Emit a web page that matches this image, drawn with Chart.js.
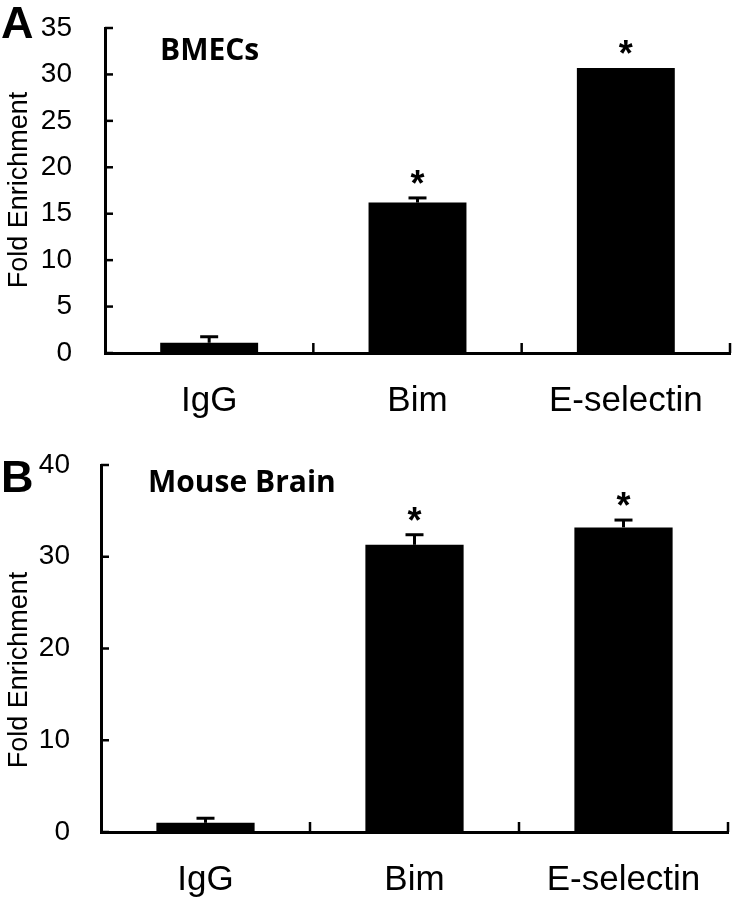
<!DOCTYPE html>
<html>
<head>
<meta charset="utf-8">
<script src="https://cdn.jsdelivr.net/npm/chart.js@4.4.1/dist/chart.umd.min.js"></script>
<style>
  body { margin: 0; background: #fff; }
  .panel { position: absolute; left: 0; }
</style>
</head>
<body>
<div class="panel" style="top:0"><canvas id="chartA" width="733" height="440"></canvas></div>
<div class="panel" style="top:440px"><canvas id="chartB" width="733" height="459"></canvas></div>
<script>
// data
const categories = ["IgG", "Bim", "E-selectin"];
const bmecValues = [1.1, 16.2, 30.7];
const bmecErrors = [0.65, 0.5, 0];
const bmecStars = [false, true, true];
const brainValues = [1.0, 31.3, 33.2];
const brainErrors = [0.5, 1.1, 0.8];
const brainStars = [false, true, true];
const bmecAxis = { max: 35, step: 5 };
const brainAxis = { max: 40, step: 10 };

Chart.defaults.font.family = "'Liberation Sans', Arial, sans-serif";
Chart.defaults.color = "#000";

function line(ctx, x1, y1, x2, y2) {
  ctx.beginPath();
  ctx.moveTo(x1, y1);
  ctx.lineTo(x2, y2);
  ctx.stroke();
}

// inward ticks, error bars, asterisks and panel labels
const panelPlugin = {
  id: "panel",
  afterDatasetsDraw(chart, args, opts) {
    const ctx = chart.ctx;
    const xs = chart.scales.x, ys = chart.scales.y;
    const meta = chart.getDatasetMeta(0);
    ctx.save();
    ctx.strokeStyle = "#000";
    ctx.fillStyle = "#000";
    ctx.lineWidth = 2.5;
    ys.ticks.forEach(t => {
      const py = ys.getPixelForValue(t.value);
      line(ctx, xs.left, py, xs.left + 8, py);
    });
    const half = (xs.getPixelForValue(1) - xs.getPixelForValue(0)) / 2;
    categories.forEach((c, i) => {
      const px = xs.getPixelForValue(i) + half;
      line(ctx, px, ys.bottom, px, ys.bottom - 10);
    });

    ctx.lineWidth = 3;
    opts.values.forEach((v, i) => {
      const bar = meta.data[i];
      const e = opts.errors[i];
      const top = ys.getPixelForValue(v + e);
      if (e > 0) {
        line(ctx, bar.x, bar.y, bar.x, top);
        line(ctx, bar.x - 9, top, bar.x + 9, top);
      }
      if (opts.stars[i]) {
        ctx.font = "bold 36px 'Liberation Sans', Arial";
        ctx.textAlign = "center";
        ctx.textBaseline = "alphabetic";
        ctx.fillText("*", bar.x, top - 2);
      }
    });

    ctx.textAlign = "left";
    ctx.textBaseline = "alphabetic";
    ctx.font = "bold 45px 'Liberation Sans', Arial";
    ctx.fillText(opts.letter, 1, opts.letterY);
    ctx.font = "bold 30px 'Open Sans', sans-serif";
    ctx.fillText(opts.title, opts.titleX, opts.titleY);

    ctx.translate(20, opts.yTitleY);
    ctx.rotate(-Math.PI / 2);
    ctx.textAlign = "center";
    ctx.textBaseline = "middle";
    ctx.font = "27px 'Liberation Sans', Arial";
    ctx.fillText("Fold Enrichment", 0, 0);
    ctx.restore();
  }
};

function makeChart(id, values, errors, stars, axis, layout) {
  return new Chart(document.getElementById(id), {
    type: "bar",
    data: {
      labels: categories,
      datasets: [{
        data: values,
        backgroundColor: "#000",
        borderWidth: 0,
        barPercentage: 1,
        categoryPercentage: 0.47
      }]
    },
    options: {
      responsive: false,
      animation: false,
      devicePixelRatio: 1,
      layout: { padding: layout.padding },
      plugins: {
        legend: { display: false },
        tooltip: { enabled: false },
        panel: Object.assign({ values, errors, stars }, layout.panel)
      },
      scales: {
        x: {
          offset: true,
          grid: { display: false, drawTicks: false },
          border: { display: true, color: "#000", width: 3 },
          ticks: { font: { size: 35 }, color: "#000", padding: 27, maxRotation: 0 },
          afterFit(scale) { scale.height = layout.xHeight; }
        },
        y: {
          min: 0,
          max: axis.max,
          // hidden tick marks only used to push the labels away from the axis
          grid: { display: false, drawTicks: true, tickLength: layout.tickPad },
          border: { display: true, color: "#000", width: 3 },
          ticks: { stepSize: axis.step, font: { size: 28 }, color: "#000", padding: 0 },
          afterFit(scale) { scale.width = layout.yWidth; }
        }
      }
    },
    plugins: [panelPlugin]
  });
}

makeChart("chartA", bmecValues, bmecErrors, bmecStars, bmecAxis, {
  padding: { top: 28, right: 3, left: 0, bottom: 0 },
  xHeight: 87, yWidth: 105, tickPad: 33,
  panel: { letter: "A", letterY: 38, title: "BMECs", titleX: 160, titleY: 60, yTitleY: 190 }
});

makeChart("chartB", brainValues, brainErrors, brainStars, brainAxis, {
  padding: { top: 25, right: 5, left: 0, bottom: 0 },
  xHeight: 67, yWidth: 101, tickPad: 31,
  panel: { letter: "B", letterY: 52, title: "Mouse Brain", titleX: 148, titleY: 52, yTitleY: 230 }
});
</script>
</body>
</html>
